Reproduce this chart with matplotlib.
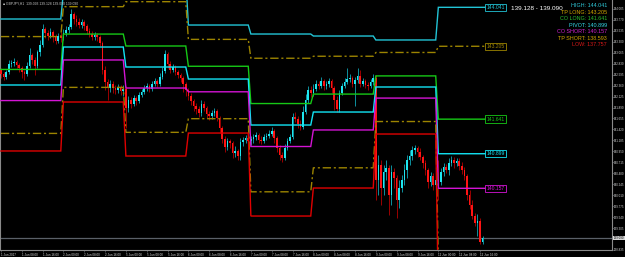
import numpy as np
import matplotlib
matplotlib.use('Agg')
import matplotlib.pyplot as plt

plt.rcParams['font.family'] = ['Liberation Sans', 'DejaVu Sans']

SYMBOL = 'GBPJPY,H1  139.093 139.128 139.090 139.090'
BID_ASK = '139.128 - 139.090'

# H1 bars, 1 Jun 2017 00:00 .. 12 Jun 2017 17:00
BARS_PER_DAY = [24, 24, 24, 24, 24, 24, 24, 18]
OPEN0 = 142.70
closes = [
    142.61, 142.55, 142.65, 142.83, 142.85, 142.87, 142.80, 142.74, 142.65, 142.61, 142.78, 143.02,
    142.91, 142.78, 143.08, 143.23, 143.58, 143.49, 143.43, 143.51, 143.40, 143.32, 143.43, 143.38,
    143.49, 143.55, 143.62, 143.90, 143.79, 143.73, 143.66, 143.73, 143.64, 143.53, 143.47, 143.40,
    143.45, 143.40, 143.28, 142.70, 142.44, 142.31, 142.40, 142.31, 142.27, 142.33, 142.25, 142.29,
    141.88, 142.05, 141.97, 142.10, 142.03, 142.16, 142.22, 142.31, 142.35, 142.29, 142.40, 142.46,
    142.40, 142.55, 142.67, 143.04, 142.83, 142.70, 142.76, 142.65, 142.59, 142.52, 142.40, 142.27,
    142.14, 142.03, 141.92, 141.86, 141.77, 141.97, 141.88, 141.75, 141.71, 141.77, 141.82, 141.67,
    141.45, 141.22, 141.04, 141.17, 141.13, 140.92, 140.96, 140.85, 141.15, 141.19, 141.24, 141.17,
    141.22, 141.26, 141.30, 141.19, 141.17, 141.26, 141.28, 141.32, 141.39, 141.24, 141.02, 140.87,
    140.81, 141.02, 141.17, 141.26, 141.69, 141.64, 141.54, 141.47, 141.79, 142.05, 142.27, 142.20,
    142.29, 142.40, 142.35, 142.46, 142.35, 142.40, 142.46, 142.31, 142.05, 141.86, 142.20, 142.35,
    142.44, 142.50, 142.52, 142.40, 142.48, 142.57, 142.40, 142.46, 142.37, 142.35, 142.44, 142.52,
    140.33, 140.66, 140.16, 140.51, 140.59, 140.01, 140.51, 140.38, 139.91, 140.16, 140.33, 140.55,
    140.76, 140.85, 140.98, 141.02, 140.94, 140.83, 140.70, 140.55, 140.29, 140.42, 140.23, 140.33,
    140.29, 140.51, 140.61, 140.55, 140.70, 140.76, 140.70, 140.74, 140.64, 140.55, 140.42, 140.01,
    139.80, 139.56, 139.41, 139.46, 139.00, 139.09,
]
highs = [
    142.74, 142.65, 142.70, 142.91, 142.91, 142.95, 142.91, 142.85, 142.78, 142.70, 142.87, 143.17,
    143.06, 142.98, 143.13, 143.34, 143.68, 143.62, 143.55, 143.60, 143.55, 143.47, 143.49, 143.51,
    143.58, 143.64, 143.68, 144.01, 143.94, 143.88, 143.81, 143.79, 143.77, 143.68, 143.60, 143.53,
    143.51, 143.49, 143.45, 143.32, 142.78, 142.50, 142.48, 142.46, 142.37, 142.40, 142.37, 142.37,
    142.35, 142.14, 142.12, 142.16, 142.14, 142.22, 142.29, 142.37, 142.42, 142.40, 142.46, 142.52,
    142.50, 142.63, 142.76, 143.13, 143.08, 142.89, 142.83, 142.80, 142.70, 142.63, 142.57, 142.44,
    142.31, 142.20, 142.07, 141.99, 141.92, 142.05, 142.03, 141.92, 141.82, 141.84, 141.88, 141.86,
    141.71, 141.49, 141.28, 141.24, 141.22, 141.17, 141.06, 141.00, 141.24, 141.26, 141.30, 141.32,
    141.28, 141.32, 141.37, 141.34, 141.28, 141.32, 141.34, 141.41, 141.47, 141.43, 141.28, 141.09,
    140.94, 141.11, 141.24, 141.32, 141.77, 141.79, 141.71, 141.62, 141.92, 142.18, 142.35, 142.35,
    142.40, 142.48, 142.46, 142.55, 142.50, 142.46, 142.52, 142.50, 142.35, 142.14, 142.27, 142.42,
    142.52, 142.74, 142.61, 142.57, 142.55, 142.74, 142.70, 142.52, 142.50, 142.44, 142.50, 142.61,
    142.59, 140.87, 140.76, 140.66, 140.76, 140.66, 140.66, 140.59, 140.44, 140.33, 140.44, 140.68,
    140.87, 140.98, 141.06, 141.09, 141.06, 141.02, 140.87, 140.76, 140.59, 140.51, 140.49, 140.42,
    140.76, 140.59, 140.70, 140.68, 140.81, 140.85, 140.83, 140.81, 140.81, 140.72, 140.61, 140.46,
    140.12, 139.91, 139.63, 139.61, 139.52, 139.13,
]
lows = [
    142.52, 142.48, 142.50, 142.61, 142.76, 142.78, 142.74, 142.65, 142.52, 142.48, 142.57, 142.74,
    142.83, 142.59, 142.74, 143.00, 143.19, 143.38, 143.34, 143.38, 143.30, 143.25, 143.28, 143.30,
    143.34, 143.43, 143.49, 143.58, 143.68, 143.64, 143.60, 143.60, 143.55, 143.47, 143.40, 143.34,
    143.34, 143.32, 143.21, 142.61, 142.27, 142.05, 142.22, 142.20, 142.18, 142.20, 142.16, 142.14,
    141.45, 141.79, 141.88, 141.92, 141.94, 141.99, 142.12, 142.18, 142.25, 142.22, 142.25, 142.35,
    142.33, 142.35, 142.50, 142.63, 142.74, 142.63, 142.65, 142.59, 142.52, 142.44, 142.22, 142.14,
    142.05, 141.94, 141.82, 141.75, 141.69, 141.71, 141.82, 141.67, 141.62, 141.64, 141.71, 141.60,
    141.34, 141.13, 140.94, 140.98, 141.02, 140.81, 140.83, 140.76, 140.76, 141.06, 141.13, 141.11,
    141.09, 141.13, 141.19, 141.13, 141.11, 141.13, 141.19, 141.24, 141.28, 141.13, 140.94, 140.76,
    140.72, 140.76, 140.98, 141.13, 141.22, 141.58, 141.45, 141.41, 141.43, 141.75, 141.99, 142.12,
    142.14, 142.25, 142.29, 142.31, 142.27, 142.29, 142.33, 142.20, 141.84, 141.79, 141.79, 142.16,
    142.31, 142.40, 142.44, 142.33, 141.92, 142.42, 142.33, 142.35, 142.31, 142.27, 142.31, 142.37,
    139.91, 140.01, 139.80, 140.01, 140.33, 139.58, 139.80, 140.16, 139.52, 139.73, 140.08, 140.23,
    140.38, 140.66, 140.76, 140.89, 140.83, 140.76, 140.59, 140.44, 140.16, 140.21, 140.12, 140.12,
    139.91, 140.23, 140.42, 140.49, 140.44, 140.64, 140.59, 140.64, 140.55, 140.46, 140.33, 139.91,
    139.71, 139.50, 139.35, 139.13, 138.96, 138.96,
]

# daily levels, one value per day
LEVEL_NAMES = ['HIGH', 'TP LONG', 'CO LONG', 'PIVOT', 'CO SHORT', 'TP SHORT', 'LOW']
high_lv = [143.790, 144.369, 144.670, 143.661, 143.468, 143.425, 143.340, 144.041]
tp_long = [143.413, 144.055, 144.162, 143.353, 142.948, 142.991, 143.072, 143.205]
co_long = [142.708, 143.467, 143.211, 142.776, 141.976, 142.179, 142.569, 141.641]
pivot = [142.374, 143.189, 142.760, 142.502, 141.515, 141.794, 142.331, 140.899]
co_short = [142.040, 142.911, 142.309, 142.228, 141.054, 141.409, 142.093, 140.157]
tp_short = [141.335, 142.323, 141.358, 141.651, 140.082, 140.597, 141.590, 138.593]
low_lv = [140.958, 142.009, 140.850, 141.343, 139.562, 140.163, 141.322, 137.757]

TIME_LABELS = ['1 Jun 2017', '1 Jun 08:00', '1 Jun 16:00', '2 Jun 00:00', '2 Jun 08:00',
               '2 Jun 16:00', '5 Jun 00:00', '5 Jun 08:00', '5 Jun 16:00', '6 Jun 00:00',
               '6 Jun 08:00', '6 Jun 16:00', '7 Jun 00:00', '7 Jun 08:00', '7 Jun 16:00',
               '8 Jun 00:00', '8 Jun 08:00', '8 Jun 16:00', '9 Jun 00:00', '9 Jun 08:00',
               '9 Jun 16:00', '12 Jun 00:00', '12 Jun 08:00', '12 Jun 16:00']
PRICE_TICKS = [138.835, 139.305, 139.540, 139.775, 140.010, 140.245, 140.480, 140.715,
               140.950, 141.185, 141.420, 141.655, 141.890, 142.125, 142.360, 142.595,
               142.830, 143.065, 143.300, 143.535, 143.770, 144.005]
LAST_PRICE = 139.090

BULL, BEAR = '#1ee6f0', '#ff1414'
BULL_WICK, BEAR_WICK = '#10a8b8', '#b40000'
GRID_GREY = '#5a6068'

closes = np.array(closes)
opens = np.r_[OPEN0, closes[:-1]]
highs = np.maximum(np.array(highs), np.maximum(opens, closes))
lows = np.minimum(np.array(lows), np.minimum(opens, closes))
n = len(closes)
x = np.arange(n)

fig = plt.figure(figsize=(6.25, 2.57), dpi=100, facecolor='black')
ax = fig.add_axes([0, 7 / 257, 612 / 625, 250 / 257], facecolor='black')

# current price line
ax.axhline(LAST_PRICE, color=GRID_GREY, lw=0.9, zorder=1)

# candles
up = closes >= opens
wick_col = np.where(up, BULL_WICK, BEAR_WICK)
ax.vlines(x, lows, highs, colors=wick_col, lw=0.6, zorder=2)
body_h = np.maximum(np.abs(closes - opens), 0.006)
ax.bar(x, body_h, bottom=np.minimum(opens, closes), width=0.62,
       color=np.where(up, BULL, BEAR), lw=0, zorder=3)

# daily levels
levels = [high_lv, tp_long, co_long, pivot, co_short, tp_short, low_lv]
line_cols = ['#22c4d6', '#9c8400', '#16c816', '#12e4f4', '#d414d4', '#9c8400', '#e00000']
styles = ['-', (0, (6, 2, 1.5, 2)), '-', '-', '-', (0, (6, 2, 1.5, 2)), '-']
lx = np.arange(n + 1)
for vals, col, ls in zip(levels, line_cols, styles):
    per_bar = np.repeat(vals, BARS_PER_DAY)
    per_bar = np.r_[per_bar, per_bar[-1]]
    ax.plot(lx, per_bar, color=col, lw=1.0, ls=ls, zorder=4,
            solid_joinstyle='miter')

# value boxes at end of today's lines
for vals, col in zip(levels, line_cols):
    v = vals[-1]
    if 138.9 < v < 144.15:
        ax.text(n + 0.5, v, f'{v:.3f}', color=col, fontsize=3.6, va='center', ha='left',
                bbox=dict(boxstyle='square,pad=0.25', fc='black', ec=col, lw=0.6), zorder=6)

# legend text, upper right
text_cols = ['#2ec8d8', '#d4a800', '#2cbc2c', '#36dcec', '#d020d0', '#d4a800', '#d81818']
for i, (name, vals, col) in enumerate(zip(LEVEL_NAMES, levels, text_cols)):
    fig.text(607 / 625, 1 - (5.7 + 6.55 * i) / 257, f'{name}: {vals[-1]:.3f}', color=col,
             fontsize=3.9, ha='right', va='center')
fig.text(511 / 625, 1 - 9 / 257, BID_ASK, color='white', fontsize=4.6, ha='left', va='center')
fig.text(3 / 625, 1 - 3.5 / 257, '\u25a0 ' + SYMBOL, color='#c8c8c8', fontsize=2.4,
         ha='left', va='center')

ax.set_xlim(-0.35, 234.7)
ax.set_ylim(138.833, 144.198)

ax.set_xticks(np.arange(0, n, 8), TIME_LABELS)
for lbl in ax.get_xticklabels():
    lbl.set_ha('left')
ax.tick_params(axis='x', colors=GRID_GREY, labelcolor='#d8d8d8', labelsize=2.2,
               length=1.5, width=0.5, pad=0.6)

ax.yaxis.tick_right()
ax.set_yticks(PRICE_TICKS, [f'{t:.3f}' for t in PRICE_TICKS])
ax.tick_params(axis='y', colors=GRID_GREY, labelcolor='#d8d8d8', labelsize=2.1,
               length=1.2, width=0.5, pad=0.4)
ax.text(1.003, LAST_PRICE, f'{LAST_PRICE:.3f}', transform=ax.get_yaxis_transform(),
        fontsize=2.1, color='black', va='center', ha='left', clip_on=False,
        bbox=dict(boxstyle='square,pad=0.15', fc='#d8d8d8', ec='none'))

for side in ['left', 'bottom', 'right']:
    ax.spines[side].set_color('#8a8a8a')
    ax.spines[side].set_linewidth(0.8)
ax.spines['top'].set_visible(False)

fig.savefig('out.png', dpi=100, facecolor='black')
